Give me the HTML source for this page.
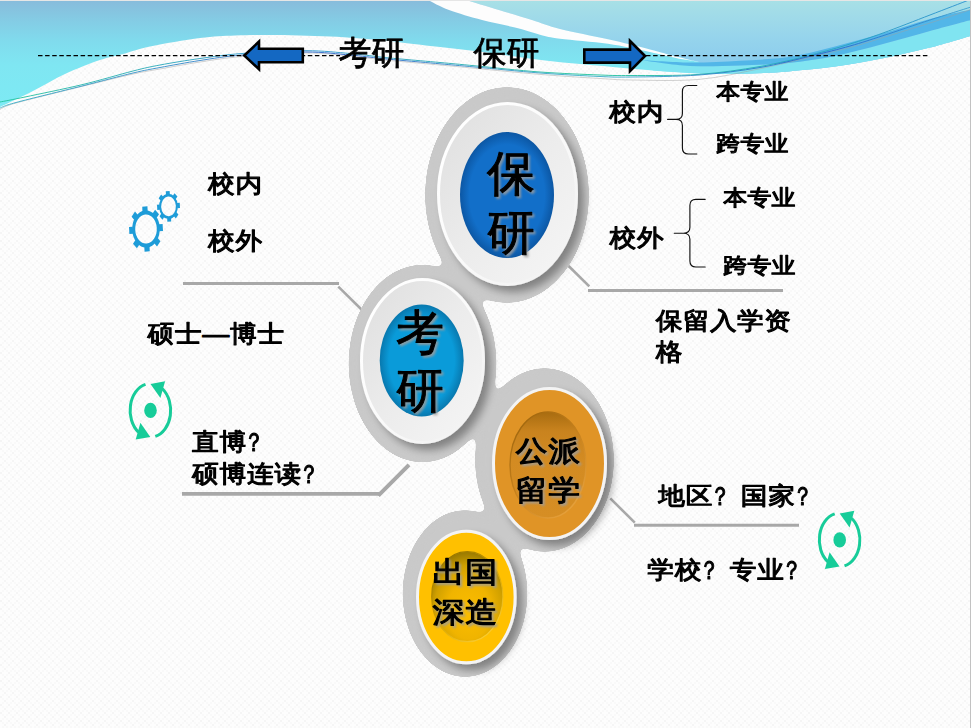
<!DOCTYPE html>
<html lang="zh-CN">
<head>
<meta charset="utf-8">
<title>考研 保研</title>
<style>
html,body{margin:0;padding:0;background:#fcfcfc;}
body{width:971px;height:728px;overflow:hidden;position:relative;font-family:"Liberation Sans","Noto Sans CJK SC",sans-serif;}
svg{position:absolute;left:0;top:0;display:block;}
.t{font-family:"Liberation Sans","WenQuanYi Zen Hei","Noto Sans CJK SC",sans-serif;fill:#000;stroke:#000;stroke-width:0.8px;stroke-linejoin:round;}
.b{stroke-width:1.25px;letter-spacing:0.8px;}
.c{stroke-width:1.0px;}
.q{stroke-width:1.15px;}
</style>
</head>
<body>
<svg width="971" height="728" viewBox="0 0 971 728">
<defs>
<linearGradient id="gL" gradientUnits="userSpaceOnUse" x1="0" y1="0" x2="0" y2="108">
<stop offset="0" stop-color="#88bbdb"/><stop offset="0.18" stop-color="#84cbe4"/><stop offset="0.38" stop-color="#80dbed"/><stop offset="0.6" stop-color="#7fe6f2"/><stop offset="1" stop-color="#7deaf4"/>
</linearGradient>
<linearGradient id="gR" gradientUnits="userSpaceOnUse" x1="0" y1="0" x2="0" y2="75">
<stop offset="0" stop-color="#a8e0e6"/><stop offset="0.5" stop-color="#96d4ec"/><stop offset="1" stop-color="#86c9ee"/>
</linearGradient>
<linearGradient id="gT1" gradientUnits="userSpaceOnUse" x1="0" y1="0" x2="971" y2="0">
<stop offset="0" stop-color="#1fc39a"/><stop offset="0.3" stop-color="#2a8fd0"/><stop offset="0.6" stop-color="#1fc39a"/><stop offset="1" stop-color="#2a8fd0"/>
</linearGradient>
<linearGradient id="gT2" gradientUnits="userSpaceOnUse" x1="0" y1="0" x2="971" y2="0">
<stop offset="0" stop-color="#38b0c8"/><stop offset="0.35" stop-color="#2b62c8"/><stop offset="0.6" stop-color="#38b0c8"/><stop offset="0.85" stop-color="#2b62c8"/><stop offset="1" stop-color="#38a0d0"/>
</linearGradient>
<linearGradient id="gRing" x1="0" y1="0" x2="1" y2="1">
<stop offset="0" stop-color="#dedede"/><stop offset="0.5" stop-color="#ececec"/><stop offset="1" stop-color="#f6f6f6"/>
</linearGradient>
<linearGradient id="gHl" x1="0.1" y1="0.1" x2="0.9" y2="0.9">
<stop offset="0" stop-color="#ffffff"/><stop offset="0.45" stop-color="#fbfbfb"/><stop offset="1" stop-color="#f2f2f2"/>
</linearGradient>
<linearGradient id="gOrS" x1="0.15" y1="0" x2="0.85" y2="1">
<stop offset="0" stop-color="#9c640c"/><stop offset="0.5" stop-color="#c9831e"/><stop offset="1" stop-color="#eaa540"/>
</linearGradient>
<linearGradient id="gYeS" x1="0.15" y1="0" x2="0.85" y2="1">
<stop offset="0" stop-color="#8a6c00"/><stop offset="0.5" stop-color="#d8a600"/><stop offset="1" stop-color="#ffd23a"/>
</linearGradient>
<linearGradient id="gOr" x1="0" y1="0" x2="0" y2="1">
<stop offset="0" stop-color="#a86c10"/><stop offset="0.18" stop-color="#c9831e"/><stop offset="0.45" stop-color="#d38b22"/><stop offset="1" stop-color="#d68e24"/>
</linearGradient>
<radialGradient id="gYe" cx="0.52" cy="0.62" r="0.62" fx="0.52" fy="0.7">
<stop offset="0" stop-color="#fbbd00"/><stop offset="0.5" stop-color="#f0b400"/><stop offset="0.78" stop-color="#d0a000"/><stop offset="1" stop-color="#987800"/>
</radialGradient>
<radialGradient id="gB1" cx="0.5" cy="0.5" r="0.5">
<stop offset="0.8" stop-color="#126fc9"/><stop offset="1" stop-color="#0c57a4"/>
</radialGradient>
<radialGradient id="gB2" cx="0.5" cy="0.5" r="0.5">
<stop offset="0.78" stop-color="#0a9bd9"/><stop offset="1" stop-color="#0878ae"/>
</radialGradient>
<filter id="goo" x="-10%" y="-10%" width="120%" height="120%" color-interpolation-filters="sRGB">
<feGaussianBlur in="SourceGraphic" stdDeviation="5" result="b"/>
<feColorMatrix in="b" type="matrix" values="1 0 0 0 0  0 1 0 0 0  0 0 1 0 0  0 0 0 30 -14.5"/>
</filter>
<filter id="sh" x="-30%" y="-30%" width="170%" height="170%">
<feGaussianBlur in="SourceAlpha" stdDeviation="4.5"/><feOffset dx="6" dy="6"/>
<feComponentTransfer><feFuncA type="linear" slope="0.36"/></feComponentTransfer>
<feMerge><feMergeNode/><feMergeNode in="SourceGraphic"/></feMerge>
</filter>
<filter id="tsh" x="-20%" y="-20%" width="150%" height="150%" color-interpolation-filters="sRGB">
<feGaussianBlur in="SourceAlpha" stdDeviation="1.2" result="bl"/><feOffset in="bl" dx="1.8" dy="1.8" result="of"/>
<feFlood flood-color="#9c9c9c" flood-opacity="0.85"/><feComposite in2="of" operator="in" result="shd"/>
<feMerge><feMergeNode in="shd"/><feMergeNode in="SourceGraphic"/></feMerge>
</filter>
<pattern id="tex" width="8" height="8" patternUnits="userSpaceOnUse">
<rect width="8" height="8" fill="#fdfdfd"/>
<rect x="0" y="0" width="2" height="2" fill="#f5f5f5"/><rect x="4" y="4" width="2" height="2" fill="#f5f5f5"/>
<rect x="2" y="2" width="2" height="2" fill="#f9f9f9"/><rect x="6" y="6" width="2" height="2" fill="#f9f9f9"/>
<rect x="6" y="2" width="2" height="2" fill="#f9f9f9"/><rect x="2" y="6" width="2" height="2" fill="#f9f9f9"/>
</pattern>
</defs>
<rect width="971" height="728" fill="url(#tex)"/>

<g id="waves">
<path d="M0.0,107.0 C5.5,104.3 22.2,96.5 33.0,91.0 C43.8,85.5 53.8,79.2 65.0,74.0 C76.2,68.8 90.3,63.3 100.0,60.0 C109.7,56.7 114.7,56.2 123.0,54.0 C131.3,51.8 137.2,49.2 150.0,46.5 C162.8,43.8 185.8,39.8 200.0,38.0 C214.2,36.2 223.3,36.0 235.0,35.5 C246.7,35.0 254.2,34.8 270.0,35.0 C285.8,35.2 311.7,35.7 330.0,36.5 C348.3,37.3 367.8,39.0 380.0,40.0 C392.2,41.0 393.0,41.5 403.0,42.7 C413.0,43.9 428.0,45.6 440.0,47.0 C452.0,48.4 463.3,49.5 475.0,51.0 C486.7,52.5 498.3,54.1 510.0,55.7 C521.7,57.3 533.3,59.1 545.0,60.5 C556.7,61.9 569.5,63.0 580.0,64.0 C590.5,65.0 595.8,65.4 608.0,66.5 C620.2,67.6 637.7,69.3 653.0,70.5 C668.3,71.7 685.5,73.0 700.0,73.5 C714.5,74.0 725.3,74.1 740.0,73.8 C754.7,73.5 772.2,72.6 788.0,71.4 C803.8,70.2 819.2,68.8 835.0,66.6 C850.8,64.4 867.2,61.5 883.0,58.3 C898.8,55.1 915.3,51.4 930.0,47.6 C944.7,43.8 964.2,37.7 971.0,35.7 L971,0 L0,0 Z" fill="url(#gL)"/>
<path d="M466.0,0.0 C471.5,1.7 488.0,6.7 499.0,10.0 C510.0,13.3 521.8,16.8 532.0,20.0 C542.2,23.2 547.3,25.8 560.0,29.0 C572.7,32.2 593.0,35.9 608.0,39.3 C623.0,42.7 638.7,46.6 650.0,49.5 C661.3,52.4 667.8,54.4 676.0,56.5 C684.2,58.6 695.2,61.1 699.0,62.0 L700.0,73.5 C706.7,73.5 725.3,74.1 740.0,73.8 C754.7,73.5 772.2,72.6 788.0,71.4 C803.8,70.2 819.2,68.8 835.0,66.6 C850.8,64.4 867.2,61.5 883.0,58.3 C898.8,55.1 915.3,51.4 930.0,47.6 C944.7,43.8 964.2,37.7 971.0,35.7 L971,0 Z" fill="url(#gR)"/>
<path d="M640.0,60.0 C648.3,61.0 673.3,65.1 690.0,66.0 C706.7,66.9 723.7,65.9 740.0,65.4 C756.3,64.9 772.2,64.6 788.0,63.0 C803.8,61.4 819.2,59.2 835.0,56.0 C850.8,52.8 867.2,48.2 883.0,44.0 C898.8,39.8 915.3,35.0 930.0,31.0 C944.7,27.0 964.2,21.8 971.0,20.0 L971.0,35.7 C964.2,37.7 944.7,43.8 930.0,47.6 C915.3,51.4 898.8,55.1 883.0,58.3 C867.2,61.5 850.8,64.4 835.0,66.6 C819.2,68.8 803.8,70.2 788.0,71.4 C772.2,72.6 754.7,73.5 740.0,73.8 C725.3,74.1 706.7,73.5 700.0,73.5 L653.0,70.5 Z" fill="#80e4f1"/>
<path d="M640.0,60.0 C648.3,60.4 673.3,62.4 690.0,62.5 C706.7,62.6 723.7,61.6 740.0,60.7 C756.3,59.8 772.2,59.4 788.0,57.0 C803.8,54.6 819.2,50.4 835.0,46.4 C850.8,42.4 867.2,37.9 883.0,33.3 C898.8,28.7 915.3,23.0 930.0,19.0 C944.7,15.0 964.2,11.1 971.0,9.5 L971.0,20.0 C964.2,21.8 944.7,27.0 930.0,31.0 C915.3,35.0 898.8,39.8 883.0,44.0 C867.2,48.2 850.8,52.8 835.0,56.0 C819.2,59.2 803.8,61.4 788.0,63.0 C772.2,64.6 756.3,64.9 740.0,65.4 C723.7,65.9 706.7,66.9 690.0,66.0 C673.3,65.1 648.3,61.0 640.0,60.0 Z" fill="#52b6e8"/>
<path d="M466.0,0.0 C471.5,1.7 488.0,6.7 499.0,10.0 C510.0,13.3 521.8,16.8 532.0,20.0 C542.2,23.2 547.3,25.8 560.0,29.0 C572.7,32.2 593.0,35.9 608.0,39.3 C623.0,42.7 638.7,46.6 650.0,49.5 C661.3,52.4 667.8,54.4 676.0,56.5 C684.2,58.6 695.2,61.1 699.0,62.0 L699.0,62.0 C695.2,61.3 684.2,59.7 676.0,58.0 C667.8,56.3 661.3,54.4 650.0,52.0 C638.7,49.6 623.0,46.0 608.0,43.8 C593.0,41.6 571.3,40.2 560.0,38.7 C548.7,37.2 547.5,36.6 540.0,34.7 C532.5,32.8 524.7,29.9 515.0,27.5 C505.3,25.1 493.0,22.9 482.0,20.0 C471.0,17.1 458.0,13.3 449.0,10.0 C440.0,6.7 431.5,1.7 428.0,0.0 Z" fill="#fdfdfd"/>
<path d="M0.0,109.4 C2.7,108.3 2.3,106.8 16.0,103.0 C29.7,99.2 62.5,91.2 82.0,86.4 C101.5,81.6 120.0,76.9 133.0,74.0 C146.0,71.1 148.8,71.0 160.0,69.0 C171.2,67.0 186.3,64.1 200.0,62.0 C213.7,59.9 224.3,58.0 242.0,56.5 C259.7,55.0 288.0,53.1 306.0,53.0 C324.0,52.9 337.7,54.9 350.0,56.0 C362.3,57.1 371.2,58.5 380.0,59.5 C388.8,60.5 393.0,60.8 403.0,61.7 C413.0,62.6 428.0,63.9 440.0,65.0 C452.0,66.1 458.3,66.7 475.0,68.3 C491.7,69.9 519.2,72.7 540.0,74.4 C560.8,76.1 584.8,77.6 600.0,78.5 C615.2,79.4 614.5,79.8 631.0,80.0 C647.5,80.2 677.5,81.3 699.0,79.4 C720.5,77.5 741.3,72.4 760.0,68.7 C778.7,65.0 796.0,60.5 811.0,57.0 C826.0,53.5 838.0,50.7 850.0,47.5 C862.0,44.3 869.7,41.7 883.0,37.6 C896.3,33.5 915.3,27.7 930.0,23.0 C944.7,18.3 964.2,11.8 971.0,9.5 " fill="none" stroke="#a0a0a0" stroke-width="0.8" opacity="0.6"/>
<path d="M0.0,102.0 C4.2,101.2 11.3,99.9 25.0,97.0 C38.7,94.1 64.0,89.0 82.0,84.7 C100.0,80.4 120.0,74.3 133.0,71.0 C146.0,67.7 148.8,67.1 160.0,65.0 C171.2,62.9 186.3,60.4 200.0,58.5 C213.7,56.6 224.3,54.8 242.0,53.5 C259.7,52.2 288.0,50.7 306.0,50.7 C324.0,50.7 337.7,52.5 350.0,53.5 C362.3,54.5 371.2,56.0 380.0,57.0 C388.8,58.0 393.0,58.3 403.0,59.2 C413.0,60.1 428.0,61.4 440.0,62.5 C452.0,63.6 458.3,64.2 475.0,65.8 C491.7,67.4 519.2,70.5 540.0,72.0 C560.8,73.5 584.8,74.4 600.0,75.0 C615.2,75.6 614.5,75.6 631.0,75.5 C647.5,75.4 677.5,75.9 699.0,74.4 C720.5,72.9 741.3,69.7 760.0,66.5 C778.7,63.3 796.0,58.8 811.0,55.0 C826.0,51.2 838.0,47.7 850.0,44.0 C862.0,40.3 869.7,37.8 883.0,33.0 C896.3,28.2 915.7,20.5 930.0,15.0 C944.3,9.5 962.5,2.5 969.0,0.0 " fill="none" stroke="url(#gT1)" stroke-width="0.9"/>
<path d="M0.0,108.0 C2.7,107.1 2.3,106.2 16.0,102.5 C29.7,98.8 62.5,90.9 82.0,86.0 C101.5,81.1 120.0,76.1 133.0,73.0 C146.0,69.9 148.8,69.6 160.0,67.5 C171.2,65.4 186.3,62.6 200.0,60.5 C213.7,58.4 224.3,56.4 242.0,55.0 C259.7,53.6 288.0,52.0 306.0,52.0 C324.0,52.0 337.7,54.0 350.0,55.0 C362.3,56.0 371.2,57.4 380.0,58.3 C388.8,59.2 393.0,59.6 403.0,60.5 C413.0,61.4 428.0,62.7 440.0,63.8 C452.0,64.9 458.3,65.5 475.0,67.0 C491.7,68.5 519.2,71.4 540.0,73.0 C560.8,74.6 584.8,75.8 600.0,76.5 C615.2,77.2 614.5,77.2 631.0,77.0 C647.5,76.8 677.5,76.6 699.0,75.0 C720.5,73.4 741.3,70.7 760.0,67.5 C778.7,64.3 796.0,59.6 811.0,56.0 C826.0,52.4 838.0,49.4 850.0,46.0 C862.0,42.6 869.7,40.0 883.0,35.7 C896.3,31.4 915.3,24.8 930.0,20.0 C944.7,15.2 964.2,9.2 971.0,7.0 " fill="none" stroke="url(#gT2)" stroke-width="0.9"/>
</g>

<rect x="0" y="0" width="971" height="1" fill="#e6e6e6"/>
<rect x="970" y="1" width="1" height="727" fill="#c2c2c2"/>
<!-- DASHED LINES -->
<g stroke="#000" stroke-width="1.25" stroke-dasharray="4.5 2.6" fill="none">
<path d="M38,55.5 H340"/><path d="M646,55.5 H930"/>
</g>

<!-- ARROWS -->
<g fill="#1468c2" stroke="#000" stroke-width="2.6" stroke-linejoin="miter">
<path d="M244.3,55.5 L259,41.6 V48.7 H302.8 V62.3 H259 V69.2 Z"/>
<path d="M645,56 L630,41 V49.6 H584.3 V62.6 H630 V71.2 Z"/>
</g>

<!-- TITLE -->
<text class="t" x="338.5" y="63.5" font-size="33" >考研</text>
<text class="t" x="473.5" y="63.5" font-size="33" >保研</text>

<!-- CONNECTOR LINES -->
<g fill="none" stroke="#a8a8a8">
<path d="M183,283.4 H339" stroke-width="3"/>
<path d="M338.3,286.6 L361.5,309.5" stroke-width="2.6"/>
<path d="M182,493.9 H380" stroke-width="3.7"/>
<path d="M378.3,495.6 L409,464.8" stroke-width="4"/>
<path d="M568.6,266 L589.3,286.4" stroke-width="2.6"/>
<path d="M588,290.4 H783" stroke-width="3"/>
<path d="M610.3,498.4 L634.8,522.6" stroke-width="2.6"/>
<path d="M634,525.2 H799" stroke-width="3"/>
</g>

<!-- GRAY BLOB -->
<g filter="url(#goo)" fill="#c9c9c9">
<ellipse cx="507" cy="195" rx="82" ry="108"/>
<ellipse cx="422.5" cy="363.5" rx="74" ry="99"/>
<ellipse cx="544.5" cy="460" rx="69.5" ry="92"/>
<ellipse cx="465" cy="593.5" rx="62.5" ry="83.5"/>
</g>

<!-- RINGS -->
<g filter="url(#sh)">
<ellipse cx="507.5" cy="194" rx="69" ry="90.5" fill="url(#gRing)" stroke="url(#gHl)" stroke-width="3"/>
</g>
<g filter="url(#sh)">
<ellipse cx="422.5" cy="361" rx="61" ry="81.5" fill="url(#gRing)" stroke="url(#gHl)" stroke-width="3"/>
</g>
<g filter="url(#sh)">
<ellipse cx="549.5" cy="463.5" rx="56" ry="75" fill="#e09428" stroke="#f4f4f4" stroke-width="3"/>
</g>
<g filter="url(#sh)">
<ellipse cx="466.3" cy="597" rx="48.8" ry="65.8" fill="#ffc000" stroke="#f4f4f4" stroke-width="3"/>
</g>
<ellipse cx="507" cy="195" rx="47" ry="63" fill="url(#gB1)"/>
<ellipse cx="421.7" cy="360.5" rx="42" ry="56" fill="url(#gB2)"/>
<ellipse cx="548" cy="465" rx="38" ry="53" fill="url(#gOr)" stroke="url(#gOrS)" stroke-width="1.4"/>
<ellipse cx="467.3" cy="596.7" rx="35.6" ry="45" fill="url(#gYe)" stroke="url(#gYeS)" stroke-width="1.2"/>

<!-- CIRCLE TEXT -->
<g filter="url(#tsh)">
<text class="t c" text-anchor="middle" x="511" y="190" font-size="48">保</text>
<text class="t c" text-anchor="middle" x="511" y="249" font-size="48">研</text>
<text class="t c" text-anchor="middle" x="420" y="349.3" font-size="48">考</text>
<text class="t c" text-anchor="middle" x="420" y="407" font-size="48">研</text>
<text class="t b" text-anchor="middle" transform="translate(548.3,460.7) scale(1,0.9)" font-size="32">公派</text>
<text class="t b" text-anchor="middle" transform="translate(548.3,500) scale(1,0.9)" font-size="32">留学</text>
<text class="t b" text-anchor="middle" transform="translate(465.3,582) scale(1,0.9)" font-size="32">出国</text>
<text class="t b" text-anchor="middle" transform="translate(465.3,621.5) scale(1,0.9)" font-size="32">深造</text>
</g>

<!-- BRACES -->
<g fill="none" stroke="#111" stroke-width="1.15" stroke-linecap="round">
<path d="M696.8,85.5 H688.4 Q682.4,85.5 682.4,91.5 V113.4 Q682.4,119.4 676,119.4 H667.6 M676,119.4 Q682.4,119.4 682.4,125.4 V148 Q682.4,154 688.4,154 H696.8"/>
<path d="M705.2,199.3 H695.9 Q689.9,199.3 689.9,205.3 V227.2 Q689.9,233.2 683.5,233.2 H674.3 M683.5,233.2 Q689.9,233.2 689.9,239.2 V261 Q689.9,267 695.9,267 H705.2"/>
</g>

<!-- LABEL TEXT -->
<text class="t b" transform="translate(609.3,120.3) scale(1,0.9)" font-size="26.7" style="letter-spacing:0.8px">校内</text>
<text class="t b" transform="translate(716.3,99.4) scale(1,0.9)" font-size="24" style="letter-spacing:0.1px">本专业</text>
<text class="t b" transform="translate(716.3,151.39999999999998) scale(1,0.9)" font-size="24" style="letter-spacing:0.1px">跨专业</text>
<text class="t b" transform="translate(609.5,246.2) scale(1,0.9)" font-size="26.7" style="letter-spacing:0.8px">校外</text>
<text class="t b" transform="translate(723.3,204.5) scale(1,0.9)" font-size="24" style="letter-spacing:0.1px">本专业</text>
<text class="t b" transform="translate(723.3,272.5) scale(1,0.9)" font-size="24" style="letter-spacing:0.1px">跨专业</text>
<text class="t b" transform="translate(655.8,328.7) scale(1,0.9)" font-size="26.7" style="letter-spacing:0.4px">保留入学资</text>
<text class="t b" transform="translate(655.8,360.2) scale(1,0.9)" font-size="26.7" style="letter-spacing:0.8px">格</text>
<text class="t b" transform="translate(658.3,504.3) scale(1,0.9)" font-size="26.7" style="letter-spacing:0.8px">地区</text>
<text class="t q" transform="translate(710.1,505.1) scale(0.76,0.96)" font-size="26.7">？</text>
<text class="t b" transform="translate(740.8,504.3) scale(1,0.9)" font-size="26.7" style="letter-spacing:0.8px">国家</text>
<text class="t q" transform="translate(792.6,505.1) scale(0.76,0.96)" font-size="26.7">？</text>
<text class="t b" transform="translate(647.3,578.4000000000001) scale(1,0.9)" font-size="26.7" style="letter-spacing:0.8px">学校</text>
<text class="t q" transform="translate(699.1,579.2) scale(0.76,0.96)" font-size="26.7">？</text>
<text class="t b" transform="translate(729.8,578.4000000000001) scale(1,0.9)" font-size="26.7" style="letter-spacing:0.8px">专业</text>
<text class="t q" transform="translate(781.6,579.2) scale(0.76,0.96)" font-size="26.7">？</text>
<text class="t b" transform="translate(208.0,192.2) scale(1,0.9)" font-size="26.7" style="letter-spacing:0.8px">校内</text>
<text class="t b" transform="translate(208.0,249.2) scale(1,0.9)" font-size="26.7" style="letter-spacing:0.8px">校外</text>
<text class="t b" transform="translate(147.5,342.3) scale(1,0.9)" font-size="26.7" style="letter-spacing:0.8px">硕士—博士</text>
<text class="t b" transform="translate(192.0,450.2) scale(1,0.9)" font-size="26.7" style="letter-spacing:0.8px">直博</text>
<text class="t q" transform="translate(243.8,451.0) scale(0.76,0.96)" font-size="26.7">？</text>
<text class="t b" transform="translate(192.0,482.4) scale(1,0.9)" font-size="26.7" style="letter-spacing:0.8px">硕博连读</text>
<text class="t q" transform="translate(298.8,483.2) scale(0.76,0.96)" font-size="26.7">？</text>

<!-- ICONS -->
<g transform="translate(146,229) scale(0.745,1) rotate(-4)" fill="#1e9cd8"><circle r="16.50" fill="none" stroke="#1e9cd8" stroke-width="4.00"/><rect x="-3.50" y="-22.60" width="7.00" height="5.10" transform="rotate(0.0)"/><rect x="-3.50" y="-22.60" width="7.00" height="5.10" transform="rotate(45.0)"/><rect x="-3.50" y="-22.60" width="7.00" height="5.10" transform="rotate(90.0)"/><rect x="-3.50" y="-22.60" width="7.00" height="5.10" transform="rotate(135.0)"/><rect x="-3.50" y="-22.60" width="7.00" height="5.10" transform="rotate(180.0)"/><rect x="-3.50" y="-22.60" width="7.00" height="5.10" transform="rotate(225.0)"/><rect x="-3.50" y="-22.60" width="7.00" height="5.10" transform="rotate(270.0)"/><rect x="-3.50" y="-22.60" width="7.00" height="5.10" transform="rotate(315.0)"/></g>
<g transform="translate(168.5,206.4) scale(0.745,1) rotate(-4)" fill="#1e9cd8"><circle r="11.25" fill="none" stroke="#1e9cd8" stroke-width="2.70"/><rect x="-2.60" y="-15.30" width="5.20" height="3.70" transform="rotate(0.0)"/><rect x="-2.60" y="-15.30" width="5.20" height="3.70" transform="rotate(45.0)"/><rect x="-2.60" y="-15.30" width="5.20" height="3.70" transform="rotate(90.0)"/><rect x="-2.60" y="-15.30" width="5.20" height="3.70" transform="rotate(135.0)"/><rect x="-2.60" y="-15.30" width="5.20" height="3.70" transform="rotate(180.0)"/><rect x="-2.60" y="-15.30" width="5.20" height="3.70" transform="rotate(225.0)"/><rect x="-2.60" y="-15.30" width="5.20" height="3.70" transform="rotate(270.0)"/><rect x="-2.60" y="-15.30" width="5.20" height="3.70" transform="rotate(315.0)"/></g>
<g transform="translate(150.4,410.4)"><path d="M-4.91,-26.00 A20.3,26.8 0 0 0 -11.93,21.68" fill="none" stroke="#17cc99" stroke-width="3.0"/><path d="M-10.0,12.4 L-14.7,29.2 L-0.1,26.5 Z" fill="#17cc99"/><g transform="rotate(180)"><path d="M-4.91,-26.00 A20.3,26.8 0 0 0 -11.93,21.68" fill="none" stroke="#17cc99" stroke-width="3.0"/><path d="M-10.0,12.4 L-14.7,29.2 L-0.1,26.5 Z" fill="#17cc99"/></g><ellipse cx="0.1" cy="0" rx="6.3" ry="7.7" fill="#17cc99"/></g>
<g transform="translate(839.6,539.9)"><path d="M-4.91,-26.00 A20.3,26.8 0 0 0 -11.93,21.68" fill="none" stroke="#17cc99" stroke-width="3.0"/><path d="M-10.0,12.4 L-14.7,29.2 L-0.1,26.5 Z" fill="#17cc99"/><g transform="rotate(180)"><path d="M-4.91,-26.00 A20.3,26.8 0 0 0 -11.93,21.68" fill="none" stroke="#17cc99" stroke-width="3.0"/><path d="M-10.0,12.4 L-14.7,29.2 L-0.1,26.5 Z" fill="#17cc99"/></g><ellipse cx="0.1" cy="0" rx="6.3" ry="7.7" fill="#17cc99"/></g>
</svg>
</body>
</html>
